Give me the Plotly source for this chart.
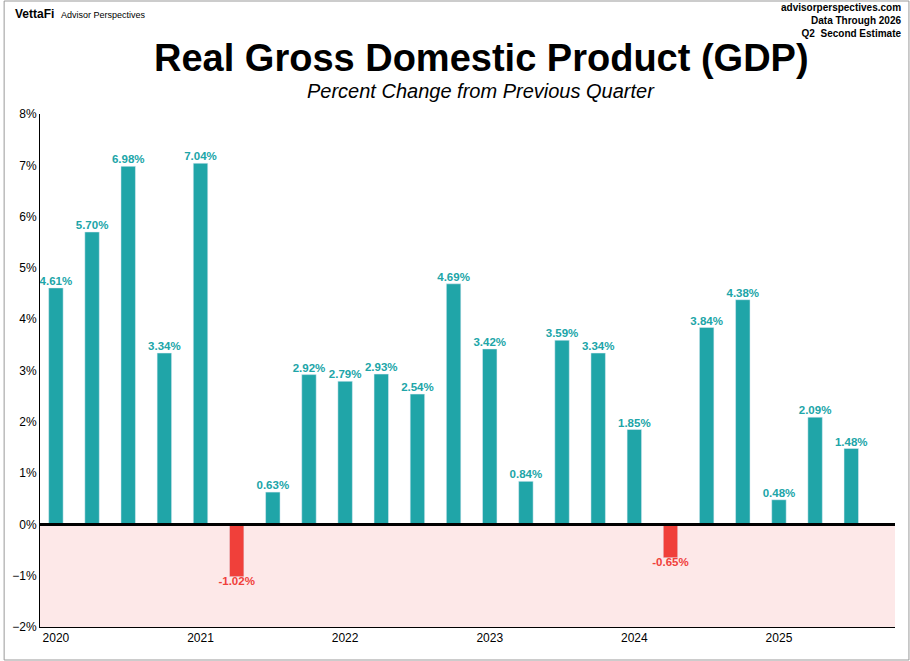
import plotly.graph_objects as go

# quarterly change, %
values = [4.61, 5.70, 6.98, 3.34, 7.04, -1.02, 0.63, 2.92, 2.79, 2.93, 2.54, 4.69,
          3.42, 0.84, 3.59, 3.34, 1.85, -0.65, 3.84, 4.38, 0.48, 2.09, 1.48]
year_labels = ["2020", "2021", "2022", "2023", "2024", "2025"]
year_pos = [0, 4, 8, 12, 16, 20]

teal = "#20a5a8"
red = "#f0403a"
colors = [teal if v >= 0 else red for v in values]
labels = ["<b>%.2f%%</b>" % v for v in values]
xs = list(range(len(values)))

fig = go.Figure()
fig.add_trace(go.Bar(x=xs, y=values, marker_color=colors, width=0.4, hoverinfo="skip"))
# value labels as a separate text trace so they don't shrink to the bar width
fig.add_trace(go.Scatter(
    x=xs, y=values, mode="text", text=labels,
    textposition=["top center" if v >= 0 else "bottom center" for v in values],
    textfont=dict(color=colors, size=11.5, family="Liberation Sans"), cliponaxis=False,
))
# pink band under zero
fig.add_shape(type="rect", xref="paper", yref="y", x0=0, x1=1, y0=-2, y1=0,
              fillcolor="#fde8e8", line_width=0, layer="below")
fig.add_shape(type="line", xref="paper", yref="y", x0=0, x1=1, y0=0, y1=0,
              line=dict(color="black", width=3))

W, H = 910, 661
L, R, T, B = 37, 15, 114, 34
fig.update_layout(
    width=W, height=H,
    margin=dict(l=L, r=R, t=T, b=B),
    plot_bgcolor="white", paper_bgcolor="white",
    showlegend=False,
    font=dict(family="Liberation Sans", color="black", size=12),
    xaxis=dict(range=[-0.44, 23.21], tickvals=year_pos, ticktext=year_labels,
               showgrid=False, zeroline=False, showline=True, linecolor="black",
               ticks="", tickfont=dict(size=12)),
    yaxis=dict(range=[-2, 8], dtick=1, ticksuffix="%", showgrid=False,
               zeroline=False, showline=True, linecolor="black", ticks=""),
)

ph = H - T - B
pw = W - L - R
def py(p):
    return (H - B - p) / ph
def pxx(p):
    return (p - L) / pw

fig.add_annotation(text="<b>Real Gross Domestic Product (GDP)</b>", xref="paper", yref="paper",
                   x=pxx(480), y=py(58), yanchor="middle", showarrow=False, font=dict(size=38))
fig.add_annotation(text="<i>Percent Change from Previous Quarter</i>", xref="paper", yref="paper",
                   x=pxx(480), y=py(91), yanchor="middle", showarrow=False, font=dict(size=20))
fig.add_annotation(text="<b>VettaFi</b>  <span style='font-size:9px'>Advisor Perspectives</span>",
                   xref="paper", yref="paper", x=pxx(10), y=py(14), xanchor="left",
                   yanchor="middle", showarrow=False, font=dict(size=12))
fig.add_annotation(text="<b>advisorperspectives.com<br>Data Through 2026<br>Q2  Second Estimate</b>",
                   xref="paper", yref="paper", x=pxx(903), y=py(21), xanchor="right",
                   yanchor="middle", align="right", showarrow=False, font=dict(size=10))
fig.add_shape(type="rect", xref="paper", yref="paper", x0=pxx(1), x1=pxx(909),
              y0=py(660), y1=py(1), line=dict(color="#999999", width=1))

fig.write_html("out.html", config={"displayModeBar": False},
               post_script="document.body.style.margin='0';document.body.style.overflow='hidden';")
